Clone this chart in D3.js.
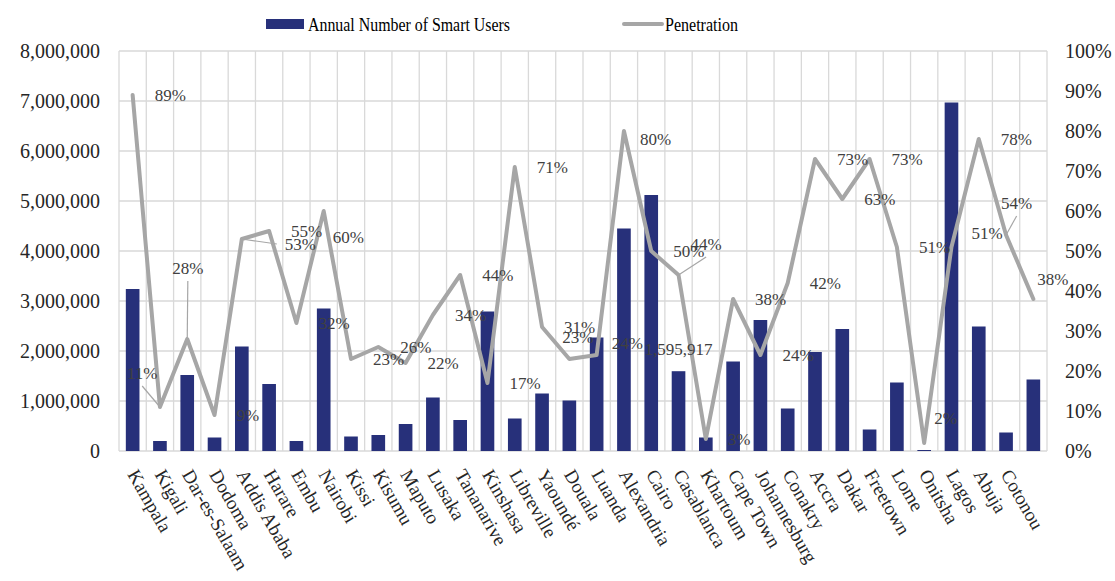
<!DOCTYPE html>
<html>
<head>
<meta charset="utf-8">
<script src="https://cdn.jsdelivr.net/npm/d3@7"></script>
<style>
body { margin: 0; background: #fff; }
</style>
</head>
<body>
<div id="chart"></div>
<script>
var cities = ["Kampala", "Kigali", "Dar-es-Salaam", "Dodoma", "Addis Ababa", "Harare", "Embu", "Nairobi",
    "Kissi", "Kisumu", "Maputo", "Lusaka", "Tananarive", "Kinshasa", "Libreville", "Yaoundé", "Douala",
    "Luanda", "Alexandria", "Cairo", "Casablanca", "Khartoum", "Cape Town", "Johannesburg", "Conakry",
    "Accra", "Dakar", "Freetown", "Lome", "Onitsha", "Lagos", "Abuja", "Cotonou", ""];

var smartUsers = [3240000, 200000, 1520000, 270000, 2090000, 1340000, 200000, 2850000,
    290000, 320000, 540000, 1070000, 620000, 2790000, 650000, 1150000, 1010000,
    2270000, 4450000, 5120000, 1595917, 270000, 1790000, 2620000, 850000,
    1980000, 2440000, 430000, 1370000, 20000, 6970000, 2490000, 370000, 1430000];

var penetration = [89, 11, 28, 9, 53, 55, 32, 60,
    23, 26, 22, 34, 44, 17, 71, 31, 23,
    24, 80, 50, 44, 3, 38, 24, 42,
    73, 63, 73, 51, 2, 51, 78, 54, 38];

var userTicks = [0, 1000000, 2000000, 3000000, 4000000, 5000000, 6000000, 7000000, 8000000];
var pctTicks = [0, 10, 20, 30, 40, 50, 60, 70, 80, 90, 100];

// bars that carry a value label
var labelledBars = [20];

// hand-moved percentage labels in the source chart: [dx, dy, leader line?]
var labelNudge = {
    1: [-55, -34, true], 2: [-37, -71, true], 4: [21, 5, true], 7: [-13, 26],
    16: [-29, -22], 17: [-7, -12], 18: [-6, 8], 20: [-10, -31, true],
    29: [-12, -25], 30: [-2, -14], 32: [-27, -32, true], 33: [-18, -20]
};

var margin = {top: 51, right: 68, bottom: 130, left: 119};
var width = 1115 - margin.left - margin.right, height = 581 - margin.top - margin.bottom;

var font = "'Liberation Serif', 'Times New Roman', serif";
var barColor = "#27307a", lineColor = "#a6a6a6", gridColor = "#d9d9d9", textColor = "#262626";

var svg = d3.select("#chart").append("svg")
    .attr("width", width + margin.left + margin.right)
    .attr("height", height + margin.top + margin.bottom)
    .style("font-family", font)
    .append("g")
    .attr("transform", "translate(" + margin.left + "," + margin.top + ")");

var x = d3.scaleBand()
    .domain(d3.range(cities.length))
    .range([0, width])
    .paddingInner(0.5)
    .paddingOuter(0.25);

var y = d3.scaleLinear().domain([0, 8000000]).range([height, 0]);
var yPct = d3.scaleLinear().domain([0, 100]).range([height, 0]);

var cx = i => x(i) + x.bandwidth() / 2;

// grid
svg.append("g")
    .selectAll("line")
    .data(userTicks)
    .enter().append("line")
    .attr("x1", 0)
    .attr("x2", width)
    .attr("y1", d => y(d))
    .attr("y2", d => y(d))
    .attr("stroke", gridColor)
    .attr("stroke-width", 1.3);

svg.append("g")
    .selectAll("line")
    .data(d3.range(cities.length + 1))
    .enter().append("line")
    .attr("x1", d => d * x.step())
    .attr("x2", d => d * x.step())
    .attr("y1", 0)
    .attr("y2", height)
    .attr("stroke", gridColor)
    .attr("stroke-width", 1.3);

// axes
var leftAxis = svg.append("g")
    .call(d3.axisLeft(y).tickValues(userTicks).tickFormat(d3.format(",")).tickSize(0).tickPadding(19));

var rightAxis = svg.append("g")
    .attr("transform", "translate(" + width + ",0)")
    .call(d3.axisRight(yPct).tickValues(pctTicks).tickFormat(d => d + "%").tickSize(0).tickPadding(18));

var bottomAxis = svg.append("g")
    .attr("transform", "translate(0," + height + ")")
    .call(d3.axisBottom(x).tickFormat(i => cities[i]).tickSize(0));

[leftAxis, rightAxis, bottomAxis].forEach(a => {
    a.attr("font-family", null);
    a.select(".domain").remove();
    a.selectAll("text")
        .style("font-family", font)
        .style("font-size", "20px")
        .attr("fill", textColor);
});

bottomAxis.selectAll(".tick text")
    .style("font-size", "19px")
    .attr("text-anchor", "start")
    .attr("x", 0)
    .attr("y", 0)
    .attr("dy", "0.35em")
    .attr("transform", "translate(0,20) rotate(60)");

// bars
svg.append("g")
    .selectAll("rect")
    .data(smartUsers)
    .enter().append("rect")
    .attr("x", (d, i) => x(i))
    .attr("y", d => y(d))
    .attr("width", x.bandwidth())
    .attr("height", d => height - y(d))
    .attr("fill", barColor);

// penetration line
var line = d3.line()
    .x((d, i) => cx(i))
    .y(d => yPct(d));

svg.append("path")
    .datum(penetration)
    .attr("d", line)
    .attr("fill", "none")
    .attr("stroke", lineColor)
    .attr("stroke-width", 4)
    .attr("stroke-linejoin", "round")
    .attr("stroke-linecap", "round");

// bar value labels
svg.append("g")
    .selectAll("text")
    .data(labelledBars)
    .enter().append("text")
    .attr("x", i => cx(i))
    .attr("y", i => y(smartUsers[i]) - 22)
    .attr("dy", "0.35em")
    .attr("text-anchor", "middle")
    .style("font-family", font)
    .style("font-size", "17px")
    .attr("fill", "#404040")
    .text(i => d3.format(",")(smartUsers[i]));

// percentage labels
var pctLabels = svg.append("g");
penetration.forEach((p, i) => {
    var nudge = labelNudge[i] || [0, 0];
    var px = cx(i), py = yPct(p);
    var lx = px + 22 + nudge[0], ly = py + nudge[1];
    var t = pctLabels.append("text")
        .attr("x", lx)
        .attr("y", ly)
        .attr("dy", "0.35em")
        .style("font-family", font)
        .style("font-size", "17px")
        .attr("fill", "#404040")
        .text(p + "%");
    if (nudge[2]) {
        var w = t.node().getComputedTextLength();
        var ex, ey;
        if (nudge[1] < -10) { ex = lx + w / 2; ey = ly + 13; }
        else { ex = lx - 8; ey = ly; }
        pctLabels.insert("line", "text")
            .attr("x1", px).attr("y1", py)
            .attr("x2", ex).attr("y2", ey)
            .attr("stroke", lineColor)
            .attr("stroke-width", 1.2);
    }
});

// legend
var legend = svg.append("g").attr("transform", "translate(0," + (-margin.top) + ")");
legend.append("rect")
    .attr("x", 266 - margin.left)
    .attr("y", 19)
    .attr("width", 38)
    .attr("height", 10)
    .attr("fill", barColor);
legend.append("text")
    .attr("x", 308 - margin.left)
    .attr("y", 24)
    .attr("dy", "0.35em")
    .style("font-family", font)
    .style("font-size", "19px")
    .attr("textLength", 202)
    .attr("lengthAdjust", "spacingAndGlyphs")
    .attr("fill", "#000")
    .text("Annual Number of Smart Users");
legend.append("line")
    .attr("x1", 624 - margin.left)
    .attr("x2", 662 - margin.left)
    .attr("y1", 24)
    .attr("y2", 24)
    .attr("stroke", lineColor)
    .attr("stroke-width", 4)
    .attr("stroke-linecap", "round");
legend.append("text")
    .attr("x", 665 - margin.left)
    .attr("y", 24)
    .attr("dy", "0.35em")
    .style("font-family", font)
    .style("font-size", "19px")
    .attr("textLength", 73)
    .attr("lengthAdjust", "spacingAndGlyphs")
    .attr("fill", "#000")
    .text("Penetration");
</script>
</body>
</html>
